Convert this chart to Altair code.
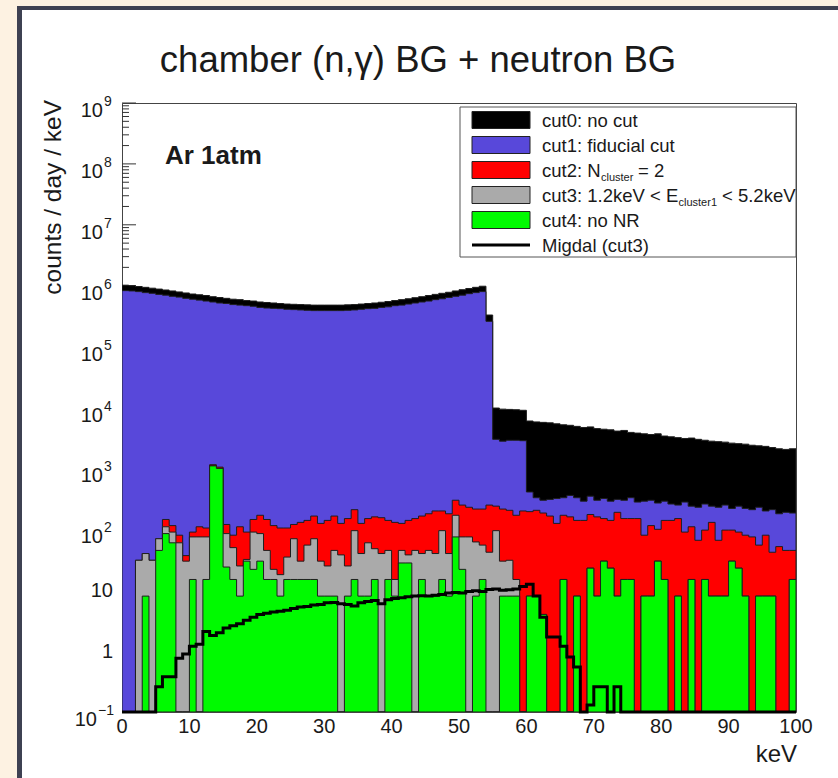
import altair as alt
import pandas as pd

# ---------------- data (counts / day / keV, 1 keV bins from 0 to 100 keV) ----------------
cut0 = [1.02e6, 1.0e6, 9.7e5, 9.4e5, 9.1e5, 8.8e5, 8.5e5, 8.2e5, 7.9e5, 7.6e5,
        7.3e5, 7.1e5, 6.9e5, 6.6e5, 6.4e5, 6.2e5, 6.0e5, 5.9e5, 5.7e5, 5.6e5,
        5.4e5, 5.3e5, 5.2e5, 5.1e5, 5.0e5, 4.95e5, 4.9e5, 4.85e5, 4.8e5, 4.8e5,
        4.8e5, 4.8e5, 4.8e5, 4.85e5, 4.9e5, 5.0e5, 5.1e5, 5.2e5, 5.35e5, 5.5e5,
        5.7e5, 5.9e5, 6.1e5, 6.35e5, 6.6e5, 6.9e5, 7.2e5, 7.5e5, 7.8e5, 8.2e5,
        8.6e5, 9.0e5, 9.4e5, 9.8e5, 3.3e5, 9.8e3, 9.4e3, 9.3e3, 9.2e3, 9.0e3,
        6.0e3, 5.8e3, 5.7e3, 5.6e3, 5.4e3, 5.2e3, 5.1e3, 4.9e3, 4.7e3, 4.8e3,
        4.5e3, 4.4e3, 4.3e3, 4.1e3, 4.2e3, 3.9e3, 3.8e3, 3.7e3, 3.6e3, 3.7e3,
        3.4e3, 3.3e3, 3.2e3, 3.1e3, 3.15e3, 3.0e3, 2.9e3, 2.8e3, 2.75e3, 2.7e3,
        2.6e3, 2.55e3, 2.5e3, 2.4e3, 2.35e3, 2.3e3, 2.2e3, 2.1e3, 2.05e3, 2.1e3]

cut1 = [8.3e5, 8.2e5, 8.0e5, 7.7e5, 7.5e5, 7.2e5, 7.0e5, 6.7e5, 6.5e5, 6.2e5,
        6.0e5, 5.8e5, 5.6e5, 5.4e5, 5.2e5, 5.1e5, 4.9e5, 4.8e5, 4.7e5, 4.6e5,
        4.4e5, 4.3e5, 4.25e5, 4.2e5, 4.1e5, 4.05e5, 4.0e5, 3.95e5, 3.9e5, 3.9e5,
        3.9e5, 3.9e5, 3.9e5, 3.95e5, 4.0e5, 4.1e5, 4.2e5, 4.25e5, 4.4e5, 4.5e5,
        4.7e5, 4.8e5, 5.0e5, 5.2e5, 5.4e5, 5.6e5, 5.9e5, 6.1e5, 6.4e5, 6.7e5,
        7.0e5, 7.4e5, 7.7e5, 8.0e5, 2.6e5, 3.0e3, 2.8e3, 2.9e3, 2.9e3, 2.85e3,
        410, 330, 300, 310, 320, 330, 360, 330, 290, 350,
        300, 320, 290, 310, 300, 330, 280, 290, 300, 270,
        290, 260, 250, 280, 240, 230, 260, 240, 230, 250,
        220, 240, 220, 210, 230, 200, 210, 180, 190, 185]

cut2 = [0, 0, 31, 40, 31, 70, 145, 115, 80, 37,
        90, 110, 105, 1150, 1050, 120, 80, 110, 90, 145,
        170, 145, 115, 105, 105, 120, 130, 140, 165, 125,
        140, 165, 125, 150, 210, 125, 150, 160, 155, 140,
        130, 125, 140, 150, 165, 180, 200, 200, 180, 300,
        250, 230, 215, 215, 250, 240, 215, 205, 170, 200,
        195, 205, 185, 165, 125, 170, 160, 140, 140, 175,
        160, 150, 140, 190, 150, 150, 150, 80, 115, 100,
        140, 140, 150, 90, 110, 66, 97, 130, 66, 97,
        97, 90, 80, 75, 55, 80, 42, 52, 45, 45]

cut3 = [0, 0, 31, 40, 31, 70, 110, 90, 60, 30,
        75, 75, 75, 1100, 1000, 85, 50, 25, 32, 90,
        85, 45, 22, 18, 35, 70, 30, 55, 70, 30,
        25, 45, 38, 25, 95, 40, 60, 48, 40, 45,
        15, 45, 38, 45, 40, 45, 40, 95, 40, 170,
        75, 75, 62, 55, 42, 95, 30, 31, 15, 0,
        8, 8, 4, 0, 0, 15, 0, 8, 0, 23,
        8, 30, 23, 8, 15, 15, 0, 8, 8, 30,
        15, 0, 8, 0, 15, 0, 15, 8, 8, 8,
        30, 23, 8, 0, 8, 8, 8, 0, 0, 15]

cut4 = [0, 0, 0, 8, 0, 45, 85, 60, 0, 0,
        15, 0, 15, 1100, 1000, 24, 15, 8, 30, 22,
        30, 15, 15, 8, 15, 15, 15, 15, 15, 8,
        8, 8, 0, 8, 15, 8, 8, 15, 0, 15,
        8, 28, 28, 0, 15, 8, 8, 15, 8, 75,
        22, 0, 8, 15, 0, 0, 8, 8, 8, 0,
        8, 8, 4, 0, 0, 15, 0, 8, 0, 23,
        8, 30, 23, 8, 15, 15, 0, 8, 8, 30,
        15, 0, 8, 0, 15, 0, 15, 8, 8, 8,
        30, 23, 8, 0, 8, 8, 8, 0, 0, 15]

migdal = [0, 0, 0, 0, 0, 0.26, 0.38, 0.38, 0.76, 0.9,
          1.2, 1.3, 2.1, 1.8, 2.0, 2.4, 2.6, 2.8, 3.2, 3.6,
          4.0, 4.2, 4.4, 4.5, 4.7, 5.0, 5.3, 5.4, 5.7, 5.8,
          6.2, 6.3, 6.0, 5.8, 5.5, 6.2, 6.5, 6.8, 6.0, 7.0,
          7.3, 7.5, 7.8, 8.0, 8.1, 8.0, 8.3, 8.5, 9.0, 9.2,
          9.0, 9.5, 9.8, 9.5, 10.3, 10.5, 10.0, 10.2, 10.5, 11.5,
          12.5, 8.0, 3.6, 1.7, 1.7, 1.2, 0.8, 0.55, 0, 0.13,
          0.26, 0.26, 0, 0.26, 0, 0, 0, 0, 0, 0,
          0, 0, 0, 0, 0, 0, 0, 0, 0, 0,
          0, 0, 0, 0, 0, 0, 0, 0, 0, 0]

bin_edges = list(range(101))
x_tick_values = [0, 10, 20, 30, 40, 50, 60, 70, 80, 90, 100]
y_decades = [0.1, 1, 10, 1e2, 1e3, 1e4, 1e5, 1e6, 1e7, 1e8, 1e9]
y_mantissas = [2, 3, 4, 5, 6, 7, 8, 9]
y_exp_values = [1e2, 1e3, 1e4, 1e5, 1e6, 1e7, 1e8, 1e9]
y_exp_labels = ["2", "3", "4", "5", "6", "7", "8", "9"]
y_plain_values = [1, 10]
y_plain_labels = ["1", "10"]

legend_labels = ["cut0: no cut", "cut1: fiducial cut"]
colors = {"cut0": "#000000", "cut1": "#5848da", "cut2": "#ff0000",
          "cut3": "#aaaaaa", "cut4": "#00fa00"}

# ---------------- layout ----------------
W, H = 674, 609
FONT = "Liberation Sans"
TXT = "#1a1a1a"

xsc = alt.Scale(domain=[0, 100], nice=False, zero=False)
ysc = alt.Scale(type="log", domain=[0.1, 1e9], nice=False, clamp=True)


def hist_df(vals):
    v = list(vals) + [vals[-1]]
    return pd.DataFrame({"x": bin_edges, "v": [max(a, 0.01) for a in v],
                         "base": [0.1] * len(bin_edges)})


def hist_layer(vals, fill):
    return alt.Chart(hist_df(vals)).mark_area(
        interpolate="step-after", fill=fill, stroke="#1e1e1e", strokeWidth=1,
        opacity=1, clip=True
    ).encode(
        x=alt.X("x:Q", scale=xsc, axis=None),
        y=alt.Y("v:Q", scale=ysc, axis=None),
        y2="base:Q",
    )


def one():
    return pd.DataFrame({"a": [0]})


def rect(x1, x2, y1, y2, fill, stroke=None, sw=1):
    kw = dict(fill=fill, opacity=1)
    if stroke is not None:
        kw.update(stroke=stroke, strokeWidth=sw)
    return alt.Chart(one()).mark_rect(**kw).encode(
        x=alt.value(x1), x2=alt.value(x2), y=alt.value(y1), y2=alt.value(y2))


def txt(s, x, y, size, align="left", weight="normal", angle=0):
    return alt.Chart(pd.DataFrame({"s": [s]})).mark_text(
        align=align, baseline="alphabetic", fontSize=size, font=FONT,
        fontWeight=weight, angle=angle, color=TXT
    ).encode(x=alt.value(x), y=alt.value(y), text="s:N")


layers = []

# page frame (beige slide background + dark border)
layers.append(rect(-122, -105, -103, 675, "#fdf2e2"))
layers.append(rect(-122, 716, -103, -97, "#fdf2e2"))
layers.append(rect(-105, -100, -97, 675, "#3e4152"))
layers.append(rect(-105, 716, -97, -93, "#3e4152"))

# y ticks (inside, behind histograms)
minor_vals = [m * d for d in y_decades[:-1] for m in y_mantissas]
layers.append(alt.Chart(pd.DataFrame({"t": y_decades})).mark_rule(color="#333", strokeWidth=1).encode(
    y=alt.Y("t:Q", scale=ysc, axis=None), x=alt.value(0), x2=alt.value(14)))
layers.append(alt.Chart(pd.DataFrame({"t": minor_vals})).mark_rule(color="#333", strokeWidth=1).encode(
    y=alt.Y("t:Q", scale=ysc, axis=None), x=alt.value(0), x2=alt.value(7)))

# histograms
layers.append(hist_layer(cut0, colors["cut0"]))
layers.append(hist_layer(cut1, colors["cut1"]))
layers.append(hist_layer(cut2, colors["cut2"]))
layers.append(hist_layer(cut3, colors["cut3"]))
layers.append(hist_layer(cut4, colors["cut4"]))
layers.append(alt.Chart(hist_df(migdal)).mark_line(
    interpolate="step-after", color="#000", strokeWidth=3, clip=False
).encode(x=alt.X("x:Q", scale=xsc, axis=None), y=alt.Y("v:Q", scale=ysc, axis=None)))

# x tick labels
layers.append(alt.Chart(pd.DataFrame({"t": x_tick_values, "lab": [str(v) for v in x_tick_values]})).mark_text(
    fontSize=20, font=FONT, baseline="alphabetic", align="center", color=TXT
).encode(x=alt.X("t:Q", scale=xsc, axis=None), y=alt.value(630), text="lab:N"))

# y tick labels
exp_df = pd.DataFrame({"t": y_exp_values, "e": y_exp_labels, "b": ["10"] * len(y_exp_values)})
layers.append(alt.Chart(exp_df).mark_text(fontSize=20, font=FONT, align="right", baseline="alphabetic", dy=14, color=TXT).encode(
    y=alt.Y("t:Q", scale=ysc, axis=None), x=alt.value(-19), text="b:N"))
layers.append(alt.Chart(exp_df).mark_text(fontSize=14, font=FONT, align="left", baseline="alphabetic", dy=3, color=TXT).encode(
    y=alt.Y("t:Q", scale=ysc, axis=None), x=alt.value(-18), text="e:N"))
neg_df = pd.DataFrame({"t": [0.1], "e": ["\u22121"], "b": ["10"]})
layers.append(alt.Chart(neg_df).mark_text(fontSize=20, font=FONT, align="right", baseline="alphabetic", dy=14, color=TXT).encode(
    y=alt.Y("t:Q", scale=ysc, axis=None), x=alt.value(-25), text="b:N"))
layers.append(alt.Chart(neg_df).mark_text(fontSize=14, font=FONT, align="left", baseline="alphabetic", dy=3, color=TXT).encode(
    y=alt.Y("t:Q", scale=ysc, axis=None), x=alt.value(-24), text="e:N"))
layers.append(alt.Chart(pd.DataFrame({"t": y_plain_values, "lab": y_plain_labels})).mark_text(
    fontSize=20, font=FONT, align="right", baseline="alphabetic", dy=7, color=TXT).encode(
    y=alt.Y("t:Q", scale=ysc, axis=None), x=alt.value(-9), text="lab:N"))

# axis titles, title, label
layers.append(txt("keV", 675, 659, 24, align="right"))
layers.append(txt("counts / day / keV", -61, -3, 24.5, align="right", angle=270))
layers.append(txt("chamber (n,\u03b3) BG + neutron BG", 296, -31, 36.5, align="center"))
layers.append(txt("Ar 1atm", 43, 61, 26, weight="bold"))

# legend
LX, LS, LT = 350, 408, 420
rows = [17, 42, 67, 92, 117, 142]
layers.append(rect(338, 674, 4, 154, "white", stroke="#555"))
swatches = [colors["cut0"], colors["cut1"], colors["cut2"], colors["cut3"], colors["cut4"]]
for c, col in zip(rows[:5], swatches):
    layers.append(rect(LX, LS, c - 8.5, c + 8.5, col, stroke="#222"))
layers.append(alt.Chart(one()).mark_rule(color="#000", strokeWidth=3).encode(
    x=alt.value(LX), x2=alt.value(LS), y=alt.value(rows[5]), y2=alt.value(rows[5])))
FS = 18.5
layers.append(txt(legend_labels[0], LT, rows[0] + 6.5, FS))
layers.append(txt(legend_labels[1], LT, rows[1] + 6.5, FS))
layers.append(txt("cut2: N", LT, rows[2] + 6.5, FS))
layers.append(txt("cluster", LT + 59, rows[2] + 11, 11))
layers.append(txt("= 2", LT + 59 + 32 + 5, rows[2] + 6.5, FS))
layers.append(txt("cut3: 1.2keV < E", LT, rows[3] + 6.5, FS))
layers.append(txt("cluster1", LT + 136.5, rows[3] + 11, 11))
layers.append(txt("< 5.2keV", LT + 136.5 + 38.5 + 5, rows[3] + 6.5, FS))
layers.append(txt("cut4: no NR", LT, rows[4] + 6.5, FS))
layers.append(txt("Migdal (cut3)", LT, rows[5] + 6.5, FS))

chart = alt.layer(*layers).properties(
    width=W, height=H,
    padding={"left": 122, "top": 103, "right": 42, "bottom": 66},
    autosize=alt.AutoSizeParams(type="none"),
    background="white",
).configure(font=FONT).configure_view(stroke="#444", strokeWidth=1)

chart.save("out.html", embed_options={"renderer": "svg", "actions": False})
